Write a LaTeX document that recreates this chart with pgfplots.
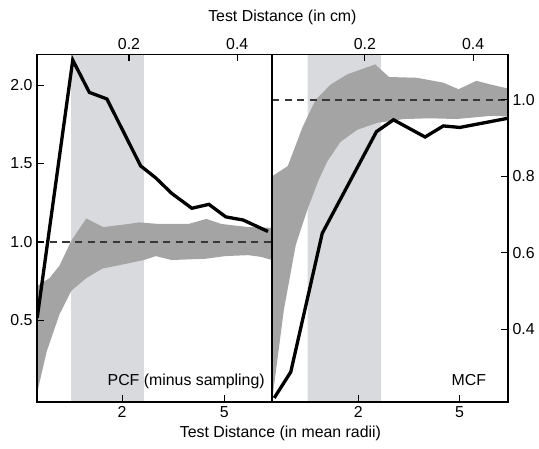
\documentclass[border=0pt]{standalone}
\usepackage{fontspec}
\setmainfont{Liberation Sans}
\usepackage{pgfplots}
\pgfplotsset{compat=1.18}
\definecolor{lightband}{RGB}{216,218,222}
\definecolor{darkband}{RGB}{164,164,164}
\definecolor{dashgray}{RGB}{55,55,55}
\pgfplotsset{
  panel/.style={scale only axis, height=262.5pt, anchor=south west,
    axis on top, tick align=inside, major tick length=5pt,
    every tick/.style={black, line width=0.8pt},
    axis line style={line width=1.1pt},
    tick label style={font=\fontsize{12}{14}\selectfont},
    /pgf/number format/assume math mode=true},
  onedec/.style={/pgf/number format/.cd, fixed, fixed zerofill, precision=1},
}
\begin{document}
\begin{tikzpicture}
% ---------------- Left panel: PCF ----------------
\begin{axis}[panel, at={(28.125pt,35.25pt)}, width=177.375pt,
  xmin=0.0303, xmax=0.4642, ymin=-0.02, ymax=2.195,
  xtick={0.1872,0.3761}, xticklabels={2,5}, xtick pos=left,
  ytick={0.5,1.0,1.5,2.0}, ytick pos=left, yticklabel style={onedec}]
% shaded test range
\addplot[fill=lightband, draw=none] coordinates {(0.093,-0.02) (0.2275,-0.02) (0.2275,2.195) (0.093,2.195) (0.093,-0.02)};
% envelope: upper edge left to right, then lower edge right to left
\addplot[fill=darkband, draw=none] coordinates {
 (0.0303,0.72) (0.0532,0.77) (0.0716,0.85) (0.0936,1.01) (0.1211,1.15) (0.1523,1.095)
 (0.2,1.115) (0.2183,1.125) (0.2550,1.115) (0.3101,1.115) (0.3431,1.147) (0.3706,1.115)
 (0.4202,1.095) (0.4642,1.09)
 (0.4642,0.885) (0.4440,0.905) (0.4202,0.916) (0.3780,0.91) (0.3413,0.893) (0.2789,0.885)
 (0.2495,0.91) (0.2275,0.885) (0.2,0.865) (0.1505,0.83) (0.1211,0.77) (0.0936,0.69)
 (0.0716,0.54) (0.0477,0.30) (0.0303,0.04) (0.0303,0.72)};
\addplot[dashgray, line width=1.1pt, dash pattern=on 5.5pt off 4pt] coordinates {(0.0303,1) (0.4642,1)};
\addplot[black, line width=2.5pt, line join=miter] coordinates {
 (0.0303,0.517) (0.096,2.16) (0.1266,1.954) (0.1591,1.912) (0.2215,1.485) (0.249,1.41)
 (0.2789,1.31) (0.3161,1.215) (0.3477,1.24) (0.3789,1.16) (0.4110,1.14) (0.4569,1.067)};
\end{axis}
\begin{axis}[panel, at={(28.125pt,35.25pt)}, width=177.375pt,
  xmin=0.0303, xmax=0.4642, ymin=0, ymax=1,
  xtick={0.2,0.4}, xtick pos=right, xticklabel pos=right, ytick=\empty,
  xticklabel style={onedec}]
\addplot[draw=none] coordinates {(0.1,0.5) (0.2,0.6)};
\end{axis}
% ---------------- Right panel: MCF ----------------
\begin{axis}[panel, at={(205.5pt,35.25pt)}, width=178.275pt,
  xmin=0.0281, xmax=0.4642, ymin=0.2096, ymax=1.1187,
  xtick={0.1877,0.3749}, xticklabels={2,5}, xtick pos=left,
  ytick={0.4,0.6,0.8,1.0}, ytick pos=right, yticklabel pos=right, yticklabel style={onedec}]
\addplot[fill=lightband, draw=none] coordinates {(0.094,0.2096) (0.23,0.2096) (0.23,1.1187) (0.094,1.1187) (0.094,0.2096)};
\addplot[fill=darkband, draw=none] coordinates {
 (0.0281,0.80) (0.0574,0.827) (0.085,0.93) (0.1088,1.0) (0.1363,1.04) (0.1675,1.067)
 (0.2189,1.093) (0.2446,1.06) (0.2959,1.058) (0.3455,1.045) (0.3730,1.028) (0.4061,1.05)
 (0.4336,1.04) (0.4642,1.03)
 (0.4642,0.957) (0.4299,0.958) (0.3694,0.95) (0.3198,0.952) (0.2721,0.95) (0.2226,0.94)
 (0.1859,0.922) (0.1547,0.89) (0.1308,0.84) (0.1143,0.79) (0.0941,0.715) (0.0721,0.62)
 (0.0501,0.45) (0.0281,0.21) (0.0281,0.80)};
\addplot[dashgray, line width=1.1pt, dash pattern=on 5.5pt off 4pt] coordinates {(0.0281,1) (0.4642,1)};
\addplot[black, line width=2.5pt, line join=miter] coordinates {
 (0.0323,0.22) (0.0629,0.288) (0.1211,0.651) (0.2213,0.917) (0.2528,0.948) (0.3112,0.903)
 (0.3450,0.932) (0.3754,0.928) (0.4642,0.952)};
\end{axis}
\begin{axis}[panel, at={(205.5pt,35.25pt)}, width=178.275pt,
  xmin=0.0281, xmax=0.4642, ymin=0, ymax=1,
  xtick={0.2,0.4}, xtick pos=right, xticklabel pos=right, ytick=\empty,
  xticklabel style={onedec}]
\addplot[draw=none] coordinates {(0.1,0.5) (0.2,0.6)};
\end{axis}
% ---------------- Texts ----------------
\node[font=\fontsize{12}{14}\selectfont, anchor=base, inner sep=0pt] at (213.4pt,322.5pt) {Test Distance (in cm)};
\node[font=\fontsize{12}{14}\selectfont, anchor=base, inner sep=0pt] at (211.9pt,8.6pt) {Test Distance (in mean radii)};
\node[font=\fontsize{12}{14}\selectfont, anchor=base east, inner sep=0pt] at (200.25pt,48pt) {PCF (minus sampling)};
\node[font=\fontsize{12}{14}\selectfont, anchor=base east, inner sep=0pt] at (367.5pt,47.8pt) {MCF};
\useasboundingbox (0pt,0pt) rectangle (404.25pt,339pt);
\end{tikzpicture}
\end{document}
